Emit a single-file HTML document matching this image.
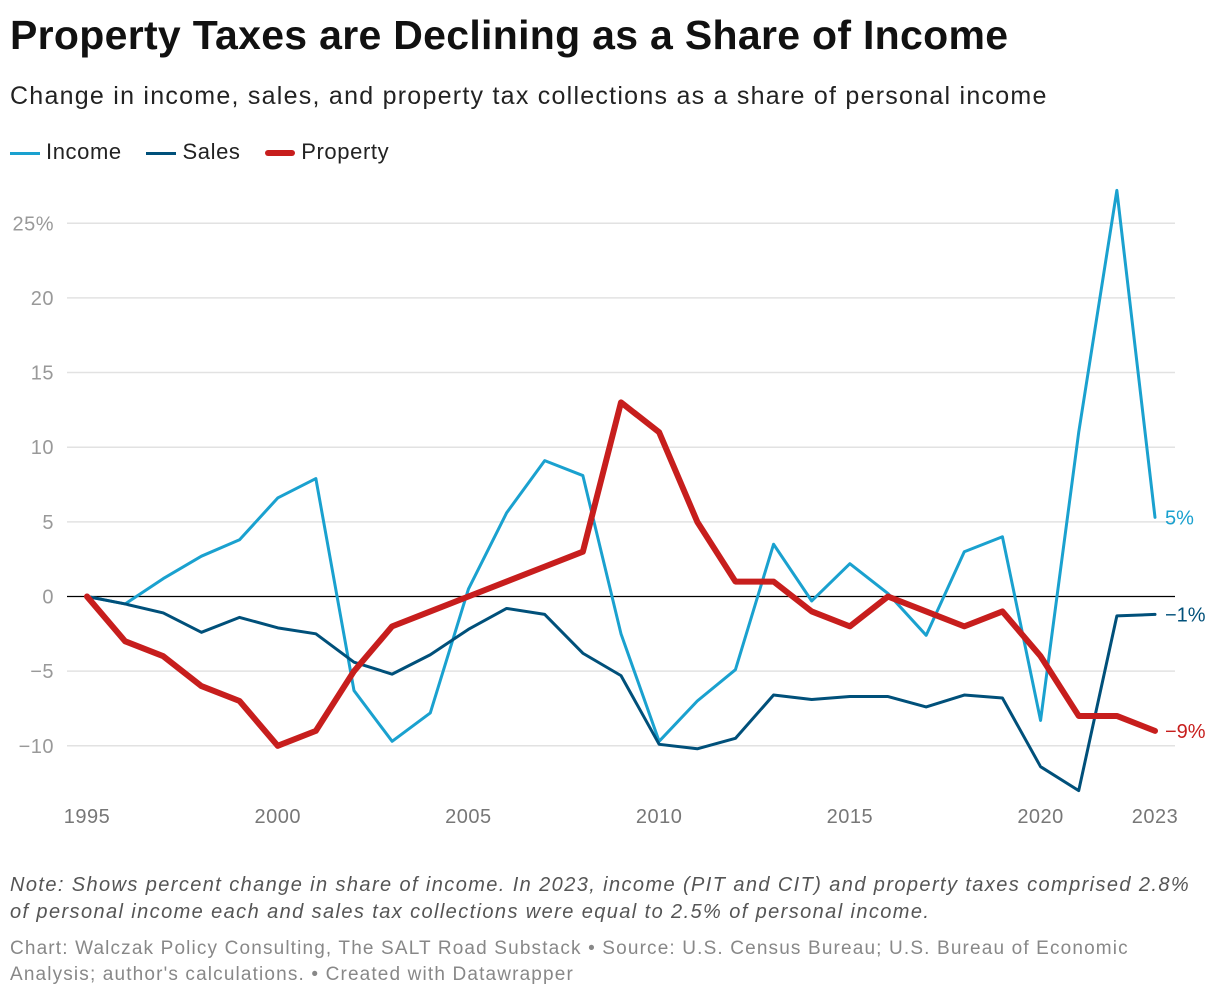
<!DOCTYPE html>
<html><head><meta charset="utf-8"><style>
body{margin:0;width:1220px;height:998px;background:#fff;font-family:"Liberation Sans",sans-serif;overflow:hidden;position:relative}
.t{position:absolute;left:10px;white-space:nowrap}
</style></head><body>
<div class="t" style="top:12px;font-size:41px;font-weight:bold;color:#111;letter-spacing:0.3px">Property Taxes are Declining as a Share of Income</div>
<div class="t" style="top:82px;font-size:25px;color:#222;letter-spacing:1.25px">Change in income, sales, and property tax collections as a share of personal income</div>
<div class="t" style="top:139px;font-size:22px;color:#222;letter-spacing:0.6px">
<span><span style="display:inline-block;width:30px;height:3px;background:#1aa1cf;vertical-align:middle;margin-right:6px"></span>Income</span>
<span style="margin-left:18px"><span style="display:inline-block;width:30px;height:3px;background:#00507a;vertical-align:middle;margin-right:6px"></span>Sales</span>
<span style="margin-left:18px"><span style="display:inline-block;width:30px;height:6px;background:#c71e1d;vertical-align:middle;margin-right:6px;border-radius:3px"></span>Property</span>
</div>
<svg id="chart" width="1220" height="860" style="position:absolute;left:0;top:0"></svg>
<div class="t" style="top:872px;font-size:20px;font-style:italic;color:#555;line-height:27px;letter-spacing:1.4px">Note: Shows percent change in share of income. In 2023, income (PIT and CIT) and property taxes comprised 2.8%<br>of personal income each and sales tax collections were equal to 2.5% of personal income.</div>
<div class="t" style="top:936px;font-size:19px;color:#888;line-height:26px;letter-spacing:1.15px">Chart: Walczak Policy Consulting, The SALT Road Substack • Source: U.S. Census Bureau; U.S. Bureau of Economic<br>Analysis; author's calculations. • Created with Datawrapper</div>
<script>
const years=[1995,1996,1997,1998,1999,2000,2001,2002,2003,2004,2005,2006,2007,2008,2009,2010,2011,2012,2013,2014,2015,2016,2017,2018,2019,2020,2021,2022,2023];
const income=[0,-0.5,1.2,2.7,3.8,6.6,7.9,-6.3,-9.7,-7.8,0.5,5.6,9.1,8.1,-2.5,-9.7,-7,-4.9,3.5,-0.3,2.2,0.2,-2.6,3.0,4.0,-8.3,11,27.2,5.3];
const sales=[0,-0.5,-1.1,-2.4,-1.4,-2.1,-2.5,-4.4,-5.2,-3.9,-2.2,-0.8,-1.2,-3.8,-5.3,-9.9,-10.2,-9.5,-6.6,-6.9,-6.7,-6.7,-7.4,-6.6,-6.8,-11.4,-13.0,-1.3,-1.2];
const property=[0,-3,-4,-6,-7,-10,-9,-5,-2,-1,0,1,2,3,13,11,5,1,1,-1,-2,0,-1,-2,-1,-4,-8,-8,-9];
const yTicks=[25,20,15,10,5,0,-5,-10];
const yTickLabels=["25%","20","15","10","5","0","−5","−10"];
const xTicks=[1995,2000,2005,2010,2015,2020,2023];
const endLabels=["5%","−1%","−9%"];
const NS="http://www.w3.org/2000/svg",svg=document.getElementById('chart');
const x=v=>87+(v-1995)*(1155-87)/28, y=v=>596.5-v*14.93;
function mk(t,a){const e=document.createElementNS(NS,t);for(const k in a)e.setAttribute(k,a[k]);svg.appendChild(e);return e;}
yTicks.forEach((v,i)=>{
 const l=mk('line',{x1:67,x2:1175,y1:y(v),y2:y(v),stroke:v===0?'#000':'#e2e2e2','stroke-width':v===0?1.3:1.5});
 
 
 const t=mk('text',{x:54,y:y(v)+7,'text-anchor':'end','font-size':20,fill:'#999','font-family':'Liberation Sans','letter-spacing':0.5});t.textContent=yTickLabels[i];
 
 
});
xTicks.forEach(v=>{
 const t=mk('text',{x:x(v),y:823,'text-anchor':'middle','font-size':20,fill:'#777','font-family':'Liberation Sans','letter-spacing':0.5});t.textContent=v;
 
 
});
const series=[[income,'#1aa1cf',3,'income-line'],[sales,'#00507a',3,'sales-line'],[property,'#c71e1d',6,'property-line']];
series.forEach((s,i)=>{
 const p=mk('polyline',{points:s[0].map((v,j)=>x(years[j])+','+y(v)).join(' '),fill:'none',stroke:s[1],'stroke-width':s[2],'stroke-linejoin':'round','stroke-linecap':'round'});
 
 
 const last=s[0][s[0].length-1];
 const t=mk('text',{x:1165,y:y(last)+7,'font-size':20,fill:s[1],'font-family':'Liberation Sans'});t.textContent=endLabels[i];
 
 
});
</script>
</body></html>
